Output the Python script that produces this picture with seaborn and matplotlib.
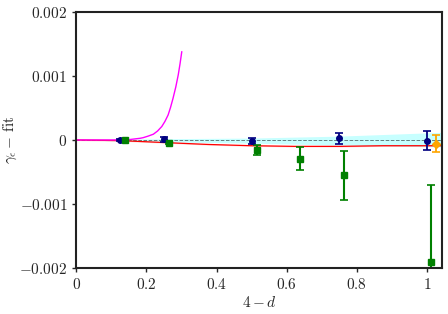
import numpy as np
import pandas as pd
import matplotlib
matplotlib.use('Agg')
import matplotlib.pyplot as plt
import seaborn as sns
from matplotlib.ticker import FuncFormatter

# data
blue_x = [0.125, 0.25, 0.5, 0.75, 1.0]
blue_y = [0.0, 0.00001, -0.000015, 0.000026, -0.00001]
blue_err = [0.00001, 0.00004, 0.00005, 0.00009, 0.00015]

green_x = [0.138, 0.264, 0.514, 0.637, 0.763, 1.012]
green_y = [0.0, -0.00005, -0.00016, -0.00029, -0.00055, -0.0019]
green_err = [0.00001, 0.00002, 0.000075, 0.00018, 0.00038, 0.0012]

orange_x = [1.026]
orange_y = [-0.00006]
orange_err = [0.00013]

magenta_x = [0.0, 0.1, 0.15, 0.182, 0.191, 0.205, 0.22, 0.232, 0.244, 0.253, 0.262, 0.269, 0.276, 0.284, 0.291, 0.296, 0.301]
magenta_y = [0.0, 0.0, 0.000005, 0.000026, 0.000036, 0.00006, 0.00009, 0.00014, 0.00021, 0.00029, 0.00039, 0.00051, 0.00065, 0.00083, 0.00102, 0.00119, 0.00138]

red_x = [0.0, 0.125, 0.25, 0.375, 0.5, 0.625, 0.75, 0.875, 1.0, 1.045]
red_y = [0.0, -0.00001, -0.00004, -0.00007, -0.00009, -0.0001, -0.0001, -0.00009, -0.00009, -0.00009]

band_x = [0.0, 0.25, 0.5, 0.75, 1.045]
band_hi = [0.0, 0.00002, 0.00003, 0.00006, 0.00012]
band_lo = [0.0, -0.00003, -0.00005, -0.00008, -0.00011]

sns.set_style('ticks')
plt.rcParams['mathtext.fontset'] = 'cm'
plt.rcParams['font.family'] = ['DejaVu Serif']

fig = plt.figure(figsize=(4.48, 3.14), dpi=100)
ax = fig.add_axes([0.170, 0.1465, 0.817, 0.8155])

ax.fill_between(band_x, band_lo, band_hi, color='cyan', alpha=0.22, lw=0)
ax.axhline(0, color='k', ls='--', lw=0.7, alpha=0.5)

df_red = pd.DataFrame({'x': red_x, 'y': red_y})
ax.fill_between(red_x, np.array(red_y) - 0.00001, np.array(red_y) + 0.00001, color='red', alpha=0.15, lw=0)
sns.lineplot(data=df_red, x='x', y='y', color='red', lw=0.9, ax=ax, sort=False, estimator=None)

df_mag = pd.DataFrame({'x': magenta_x, 'y': magenta_y})
sns.lineplot(data=df_mag, x='x', y='y', color='magenta', lw=1.0, ax=ax, sort=False, estimator=None)

ax.errorbar(blue_x, blue_y, yerr=blue_err, fmt='o', color='navy', ms=4, capsize=3, elinewidth=1.3, capthick=1.2)
ax.errorbar(green_x, green_y, yerr=green_err, fmt='s', color='green', ms=4, capsize=3, elinewidth=1.5, capthick=1.2)
ax.errorbar(orange_x, orange_y, yerr=orange_err, fmt='D', color='orange', ms=4, capsize=3, elinewidth=1.3, capthick=1.2)

ax.set_xlim(0, 1.043)
ax.set_ylim(-0.002, 0.002)
ax.set_xticks([0, 0.2, 0.4, 0.6, 0.8, 1.0])
ax.set_yticks([-0.002, -0.001, 0, 0.001, 0.002])

def fmt(v, pos):
    s = ('%g' % v)
    if s == '-0':
        s = '0'
    return '$' + s + '$'

ax.xaxis.set_major_formatter(FuncFormatter(fmt))
ax.yaxis.set_major_formatter(FuncFormatter(fmt))
ax.tick_params(labelsize=11, length=3, width=1)
for sp in ax.spines.values():
    sp.set_linewidth(1.5)
    sp.set_color('#222222')

ax.set_xlabel(r'$4-d$', fontsize=11, labelpad=2)
ax.set_ylabel(r'$\gamma_\epsilon-\,\mathrm{fit}$', fontsize=11)
ax.yaxis.set_label_coords(-0.155, 0.5)

fig.savefig('out.png', dpi=100)
